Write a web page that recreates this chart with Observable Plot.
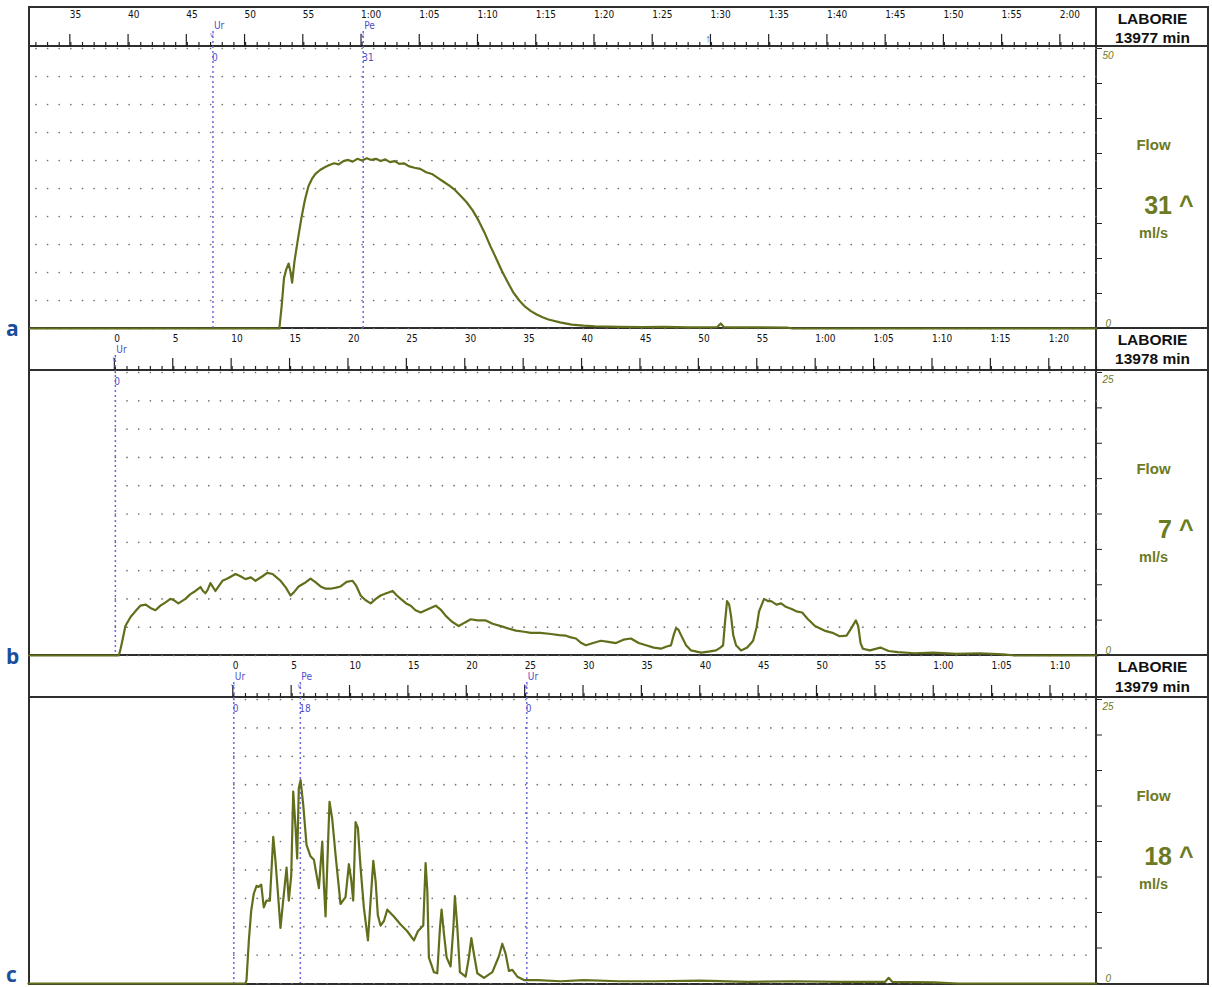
<!DOCTYPE html>
<html><head><meta charset="utf-8">
<script src="https://cdn.jsdelivr.net/npm/d3@7"></script>
<script src="https://cdn.jsdelivr.net/npm/@observablehq/plot@0.6"></script>
<style>
body{margin:0;background:#fff;width:1212px;height:987px;overflow:hidden;position:relative;font-family:"Liberation Sans",Arial,sans-serif}
.panel{position:absolute;left:0;width:1212px;z-index:2}
.ln{position:absolute;background:#2e2e2e;z-index:1}
.letter{position:absolute;left:6px;font:700 21px "Open Sans",sans-serif;color:#1b4e9b;line-height:1;z-index:3}
</style></head><body>
<script>
// ---------- data ----------
const panelLetters = ["a", "b", "c"];
const deviceNames = ["LABORIE", "LABORIE", "LABORIE"];
const sampleIds = ["13977 min", "13978 min", "13979 min"];
const peakFlows = ["31", "7", "18"];
const flowUnit = "ml/s";
const flowLabel = "Flow";
const yMaxes = [50, 25, 25];
const xDomains = [[31.45, 123.06], [-7.35, 84.0], [-17.5, 73.9]];

// panel a
const aTime = [31.5,52.9,53.1,53.3,53.5,53.7,53.85,54.0,54.2,54.5,54.8,55.1,55.4,55.7,56.0,56.4,56.8,57.2,57.6,58.0,58.4,58.8,59.2,59.6,60.0,60.4,60.8,61.2,61.6,62.0,62.4,62.8,63.2,63.6,64.0,64.5,65.0,65.5,66.0,66.5,67.0,67.5,68.0,68.5,69.0,69.5,70.0,70.5,71.0,71.5,72.0,72.5,73.0,73.5,74.0,74.5,75.0,75.5,76.0,77.0,78.0,79.0,80.0,82,84,86,88,90.5,90.8,91.1,94,96.5,97,123.1];
const aFlow = [0,0,4,9,10.6,11.6,10.2,8.2,12,16,19.8,23,25.4,26.7,27.6,28.3,28.8,29.2,29.5,29.3,29.9,30.1,29.8,30.3,30.0,30.4,30.1,30.3,29.9,30.2,29.7,29.9,29.4,29.5,29.0,28.7,28.5,27.9,27.6,26.9,26.2,25.5,24.7,23.6,22.5,21.1,19.3,17.2,14.8,12.6,10.3,8.3,6.4,5.0,3.9,3.1,2.5,2.0,1.6,1.1,0.7,0.5,0.4,0.3,0.25,0.3,0.2,0.25,0.9,0.2,0.2,0.15,0,0];
const aMarkerTime = [47.2, 60.1];
const aMarkerName = ["Ur", "Pe"];
const aMarkerValue = ["0", "31"];
const aArrowTime = [89.7];

// panel b
const bTime = [-7.4,0.3,0.45,0.6,0.86,1.3,1.71,2.14,2.6,3.0,3.43,3.86,4.3,4.71,5.0,5.4,6.0,6.4,6.86,7.29,7.5,7.71,7.9,8.14,8.57,8.9,9.17,9.6,10.29,10.71,11.14,11.6,12.0,12.6,13.0,13.46,13.8,14.14,14.6,15.0,15.3,15.69,16.2,16.71,17.1,17.57,18.0,18.43,18.9,19.29,19.8,20.31,20.6,21.0,21.4,21.86,22.3,22.71,23.2,23.74,24.1,24.43,24.9,25.29,25.7,26.14,26.8,27.43,27.9,28.29,28.8,29.4,29.9,30.43,31.0,31.71,32.3,33.0,33.6,34.29,35.0,35.57,36.4,37.29,38.0,38.57,39.0,39.43,39.9,40.29,40.9,41.57,42.2,42.86,43.5,44.14,44.8,45.43,46.1,46.71,47.2,47.57,47.8,48.0,48.2,48.43,48.86,49.29,50.14,50.8,51.43,51.8,52.03,52.2,52.37,52.55,52.71,52.9,53.14,53.57,54.1,54.6,54.9,55.11,55.54,55.9,56.14,56.6,57.0,57.4,57.9,58.3,58.8,59.3,59.9,60.7,61.4,62.0,62.6,63.0,63.4,63.6,63.8,64.0,64.6,65.5,66.2,67.0,68.4,70.0,72.0,74.0,76.0,77,84.1];
const bFlow = [0,0,0.6,1.3,2.6,3.4,3.9,4.4,4.5,4.2,4.0,4.4,4.7,5.0,4.9,4.6,5.0,5.4,5.7,6.05,5.7,5.5,5.8,6.4,5.7,6.2,6.6,6.8,7.2,7.0,6.75,6.9,6.6,7.0,7.3,7.2,6.9,6.6,6.0,5.3,5.6,6.1,6.4,6.8,6.5,6.1,5.9,5.9,6.0,6.1,6.5,6.6,6.2,5.3,4.9,4.6,5.0,5.3,5.5,5.7,5.3,5.0,4.6,4.4,4.0,3.8,4.1,4.4,4.0,3.5,3.0,2.6,2.9,3.2,3.1,3.1,2.8,2.6,2.4,2.2,2.1,2.0,2.0,1.9,1.8,1.75,1.6,1.5,1.1,0.9,1.1,1.3,1.2,1.1,1.4,1.5,1.1,0.9,0.7,0.6,0.8,0.9,1.8,2.4,2.3,1.8,0.9,0.45,0.26,0.35,0.45,0.7,0.9,3.0,4.8,4.5,3.5,1.8,0.9,0.45,0.7,1.3,2.5,3.9,5.0,4.8,4.8,4.5,4.6,4.3,4.1,3.9,3.8,3.2,2.6,2.2,2.0,1.7,1.75,2.4,3.1,2.6,1.1,0.6,0.45,0.7,0.4,0.3,0.2,0.25,0.15,0.2,0.1,0,0];
const bMarkerTime = [0];
const bMarkerName = ["Ur"];
const bMarkerValue = ["0"];

// panel c
const cTime = [-17.6,1.0,1.09,1.29,1.49,1.71,1.95,2.12,2.35,2.57,2.80,3.09,3.38,3.57,3.77,4.00,4.23,4.52,4.71,4.92,5.09,5.29,5.43,5.57,5.72,5.95,6.23,6.57,6.86,7.29,7.58,7.71,7.86,8.01,8.20,8.43,8.72,9.14,9.57,9.86,10.06,10.23,10.43,10.63,10.86,11.14,11.49,11.72,11.95,12.15,12.34,12.57,12.86,13.15,13.71,14.29,14.86,15.43,15.77,16.23,16.43,16.58,16.71,17.14,17.43,17.66,17.80,18.0,18.23,18.57,18.81,18.94,19.15,19.37,19.86,20.14,20.35,20.57,20.86,21.43,22.15,22.71,23.0,23.29,23.57,23.86,24.29,24.86,26,28,30,33,36,40,44,48,52,55.8,56.1,56.4,60,62,74];
const cFlow = [0,0,0.3,3.8,6.4,7.9,8.6,8.5,8.7,6.7,7.3,7.3,12.9,10.8,8.1,4.9,7.3,10.2,7.3,9.5,16.9,13.7,11.0,17.2,17.9,15.7,12.2,11.2,10.9,8.4,12.5,8.9,5.9,10.5,16.0,14.5,11.3,7.0,7.6,10.5,9.1,7.3,14.2,13.7,10.2,6.7,3.8,7.3,10.8,9.0,6.0,5.1,5.5,6.5,5.9,5.2,4.6,3.8,4.6,5.1,10.6,8.1,2.3,1.0,0.9,4.9,6.5,4.4,2.3,1.5,4.9,7.7,4.9,1.0,0.6,2.3,4.0,2.6,0.9,0.5,1.0,2.4,3.5,2.6,1.1,1.2,0.6,0.3,0.3,0.2,0.3,0.2,0.2,0.25,0.15,0.2,0.15,0.15,0.5,0.15,0.1,0,0];
const cMarkerTime = [0, 5.7, 25.1];
const cMarkerName = ["Ur", "Pe", "Ur"];
const cMarkerValue = ["0", "18", "0"];

// ---------- style ----------
const OLIVE_TEXT = "#6c7a22";
const OLIVE_LINE = "#626e1b";
const BLUE = "#4f4fc8";
const BLUE_LINE = "#6868e4";
const NARROW = '"Liberation Sans Narrow","Arial Narrow","DejaVu Sans Condensed",sans-serif';
const SANS = '"Liberation Sans",Arial,sans-serif';

const geoms = [
  {top: 7, height: 321, mt: 39, mb: 0, head1: -27, head2: -8},
  {top: 328, height: 327, mt: 42, mb: 0, head1: -30, head2: -11},
  {top: 655, height: 332, mt: 42, mb: 4, head1: -30, head2: -10}
];

function fmt(t) {
  if (t < 60) return String(t);
  const m = Math.floor(t / 60), s = t % 60;
  return m + ":" + String(s).padStart(2, "0");
}

function makePanel(i, times, flows, mTimes, mNames, mValues, arrows) {
  const g = geoms[i];
  const [x0, x1] = xDomains[i];
  const yMax = yMaxes[i];
  const data = times.map((t, k) => ({t, v: flows[k]}));
  const secs = d3.range(Math.max(0, Math.ceil(x0)), Math.floor(x1) + 1);
  const major = secs.filter(s => s % 5 === 0);
  const levels = d3.range(0, 11).map(k => k * yMax / 10);
  const rightTicks = d3.range(0, 9).map(k => k * yMax / 8);
  const dots = secs.flatMap(s => levels.map(l => ({t: s, v: l})));
  const markers = mTimes.map((t, k) => ({t, name: mNames[k], value: mValues[k]}));
  const common = {fontFamily: NARROW, fontSize: 10};
  return Plot.plot({
    width: 1212, height: g.height,
    marginLeft: 29, marginRight: 116, marginTop: g.mt, marginBottom: g.mb,
    style: {background: "transparent", overflow: "visible"},
    x: {domain: [x0, x1]},
    y: {domain: [0, yMax], range: [g.height - g.mb, g.mt + 2]},
    marks: [
      Plot.dot(dots, {x: "t", y: "v", r: 0.85, fill: "#707070", stroke: null}),
      Plot.axisX({anchor: "top", ticks: secs, tickSize: 5, tickFormat: () => "", label: null, stroke: "#222", strokeWidth: 1.2}),
      Plot.axisX({anchor: "top", ticks: major, tickSize: 13, tickPadding: 19, tickFormat: fmt, label: null,
        textAnchor: "start", lineAnchor: "middle", dx: -1, fill: "#111", stroke: "#222", strokeWidth: 1.2, ...common}),
      Plot.ruleX(markers, {x: "t", stroke: BLUE_LINE, strokeWidth: 1.5, strokeDasharray: "2,3", insetTop: -15}),
      Plot.text(markers, {x: "t", text: "name", frameAnchor: "top", dy: -21, dx: 1, textAnchor: "start", lineAnchor: "middle", fill: BLUE, ...common}),
      Plot.text(markers, {x: "t", text: () => "v", frameAnchor: "top", dy: -12, dx: -1, textAnchor: "middle", lineAnchor: "middle", fill: BLUE, fontFamily: NARROW, fontSize: 7}),
      Plot.text(markers, {x: "t", text: "value", frameAnchor: "top", dy: 11, dx: -1, textAnchor: "start", lineAnchor: "middle", fill: BLUE, ...common}),
      Plot.text(arrows, {x: d => d, text: () => "↑", frameAnchor: "top", dy: -8, textAnchor: "middle", lineAnchor: "middle", fill: BLUE, fontSize: 11, fontWeight: "bold"}),
      Plot.line(data, {x: "t", y: "v", stroke: OLIVE_LINE, strokeWidth: 2.2}),
      Plot.axisY({anchor: "right", ticks: rightTicks, tickSize: 5, tickFormat: () => "", label: null, stroke: "#222"}),
      Plot.axisY({anchor: "right", ticks: [yMax], tickSize: 0, tickPadding: 6, tickFormat: d => String(d), label: null,
        fontStyle: "italic", fill: OLIVE_TEXT, dy: 7, fontSize: 10, fontFamily: SANS}),
      Plot.axisY({anchor: "right", ticks: [0], tickSize: 0, tickPadding: 9, tickFormat: d => String(d), label: null,
        fontStyle: "italic", fill: OLIVE_TEXT, dy: -5, fontSize: 10, fontFamily: SANS}),
      Plot.text([deviceNames[i]], {text: d => d, frameAnchor: "top-right", dx: 56, dy: g.head1, textAnchor: "middle", lineAnchor: "middle",
        fontFamily: SANS, fontWeight: "bold", fontSize: 15.5, fill: "#111"}),
      Plot.text([sampleIds[i]], {text: d => d, frameAnchor: "top-right", dx: 56, dy: g.head2, textAnchor: "middle", lineAnchor: "middle",
        fontFamily: SANS, fontWeight: "bold", fontSize: 15.5, fill: "#111"}),
      Plot.text([flowLabel], {text: d => d, frameAnchor: "top-right", dx: 57, dy: 99, textAnchor: "middle", lineAnchor: "middle",
        fontFamily: SANS, fontWeight: "bold", fontSize: 15, fill: OLIVE_TEXT}),
      Plot.text([peakFlows[i] + " ^"], {text: d => d, frameAnchor: "top-right", dx: 97, dy: 159, textAnchor: "end", lineAnchor: "middle",
        fontFamily: SANS, fontWeight: "bold", fontSize: 25, fill: OLIVE_TEXT}),
      Plot.text([flowUnit], {text: d => d, frameAnchor: "top-right", dx: 57, dy: 187, textAnchor: "middle", lineAnchor: "middle",
        fontFamily: SANS, fontWeight: "bold", fontSize: 14.5, fill: OLIVE_TEXT})
    ]
  });
}

const charts = [
  makePanel(0, aTime, aFlow, aMarkerTime, aMarkerName, aMarkerValue, aArrowTime),
  makePanel(1, bTime, bFlow, bMarkerTime, bMarkerName, bMarkerValue, []),
  makePanel(2, cTime, cFlow, cMarkerTime, cMarkerName, cMarkerValue, [])
];

charts.forEach((svg, i) => {
  const div = document.createElement("div");
  div.className = "panel";
  div.style.top = geoms[i].top + "px";
  div.appendChild(svg);
  document.body.appendChild(div);
});

// frame lines
function hline(y, w) { const d = document.createElement("div"); d.className = "ln"; d.style.cssText = `left:28px;width:1181px;top:${y - w/2}px;height:${w}px`; document.body.appendChild(d); }
function vline(x, w) { const d = document.createElement("div"); d.className = "ln"; d.style.cssText = `left:${x - w/2}px;width:${w}px;top:6px;height:979px`; document.body.appendChild(d); }
[[7, 2], [46, 1.6], [328, 2], [370, 1.6], [655, 2], [697, 1.6], [984, 2]].forEach(([y, w]) => hline(y, w));
[[29, 2], [1096, 1.6], [1208, 1.6]].forEach(([x, w]) => vline(x, w));

// panel letters
const letterTops = [318, 646, 964];
panelLetters.forEach((l, i) => {
  const d = document.createElement("div");
  d.className = "letter";
  d.textContent = l;
  d.style.top = letterTops[i] + "px";
  document.body.appendChild(d);
});
</script></body></html>
